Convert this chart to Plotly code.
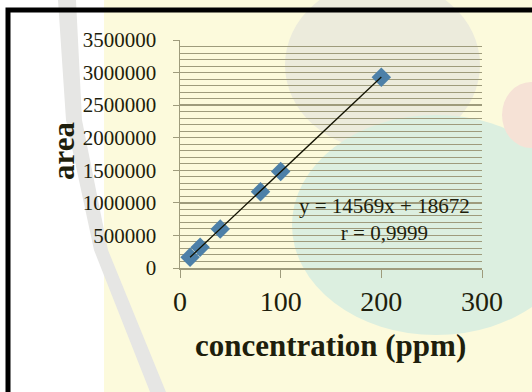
import plotly.graph_objects as go

# Data
concentration = [10, 20, 40, 80, 100, 200]
area = [164000, 318000, 598000, 1170000, 1480000, 2930000]
slope = 14569
intercept = 18672
eq_text = "y = 14569x + 18672<br>r = 0,9999"
x_ticks = [0, 100, 200, 300]
y_ticks = [0, 500000, 1000000, 1500000, 2000000, 2500000, 3000000, 3500000]

fit_x = [min(concentration), max(concentration)]
fit_y = [slope * v + intercept for v in fit_x]

W, H = 532, 392
L, R, T, B = 180, 50, 40, 124
pw, ph = W - L - R, H - T - B

def px(xp):
    return (xp - L) / pw

def py(yp):
    return (H - B - yp) / ph

def path(points):
    s = "M " + " L ".join(f"{px(a):.4f},{py(b):.4f}" for a, b in points) + " Z"
    return s

serif = "Liberation Serif, Times New Roman, serif"
txt = "#1e1e0c"
grid = "#9e9b7c"

fig = go.Figure()
fig.add_trace(go.Scatter(x=concentration, y=area, mode="markers",
                         marker=dict(symbol="diamond", size=15, color="#4d80a8"),
                         showlegend=False, cliponaxis=False, hoverinfo="skip"))
fig.add_trace(go.Scatter(x=fit_x, y=fit_y, mode="lines",
                         line=dict(color="#111100", width=1.3), showlegend=False, hoverinfo="skip"))

shapes = [
    # watermark-like background tints
    dict(type="rect", xref="paper", yref="paper", x0=px(104), x1=px(560), y0=py(420), y1=py(0),
         fillcolor="#fcfadc", line_width=0, layer="below"),
    dict(type="path", xref="paper", yref="paper",
         path=path([(58, 0), (76, 0), (82, 120), (108, 250), (166, 392), (150, 392), (94, 250), (66, 120)]),
         fillcolor="#e6e6e4", line_width=0, layer="below"),
    dict(type="circle", xref="paper", yref="paper", x0=px(285), x1=px(480), y0=py(150), y1=py(-20),
         fillcolor="#ecebdc", line_width=0, layer="below"),
    dict(type="circle", xref="paper", yref="paper", x0=px(292), x1=px(580), y0=py(335), y1=py(115),
         fillcolor="#dcefe0", line_width=0, layer="below"),
    dict(type="circle", xref="paper", yref="paper", x0=px(502), x1=px(560), y0=py(148), y1=py(82),
         fillcolor="#f6e2d6", line_width=0, layer="below"),
    # outer black frame
    dict(type="rect", xref="paper", yref="paper", x0=px(8), x1=px(570), y0=py(430), y1=py(10),
         line=dict(color="black", width=5), fillcolor="rgba(0,0,0,0)"),
]

fig.update_layout(
    width=W, height=H,
    margin=dict(l=L, r=R, t=T, b=B, autoexpand=False),
    paper_bgcolor="white",
    plot_bgcolor="rgba(0,0,0,0)",
    font=dict(family=serif, color=txt),
    shapes=shapes,
    hovermode=False,
    xaxis=dict(range=[0, 300], tickvals=x_ticks, ticks="outside", ticklen=8, tickcolor=grid,
               tickfont=dict(size=28, family=serif, color=txt), showgrid=False, zeroline=False,
               showline=True, linecolor=grid, linewidth=1.5, automargin=False),
    yaxis=dict(range=[0, 3500000], tickvals=y_ticks, ticktext=[str(v) for v in y_ticks],
               ticks="outside", ticklen=6, tickcolor=grid,
               tickfont=dict(size=21, family=serif, color=txt),
               showgrid=True, gridcolor=grid, gridwidth=1.5, zeroline=False,
               minor=dict(dtick=100000, showgrid=True, gridcolor=grid, gridwidth=1),
               showline=True, linecolor=grid, linewidth=1.5, ticklabelstandoff=12,
               automargin=False),
    annotations=[
        dict(text="<b>area</b>", xref="paper", yref="paper", x=px(63), y=py(151),
             showarrow=False, textangle=-90, font=dict(size=31, family=serif, color=txt),
             xanchor="center", yanchor="middle"),
        dict(text="<b>concentration (ppm)</b>", xref="paper", yref="paper", x=px(330), y=py(345),
             showarrow=False, font=dict(size=31, family=serif, color=txt),
             xanchor="center", yanchor="middle"),
        dict(text=eq_text, xref="paper", yref="paper", x=px(384), y=py(219),
             showarrow=False, font=dict(size=21, family=serif, color=txt),
             xanchor="center", yanchor="middle", align="center"),
    ],
)

fig.write_html("out.html", config={"displayModeBar": False, "staticPlot": True},
               post_script="document.body.style.margin='0';")
